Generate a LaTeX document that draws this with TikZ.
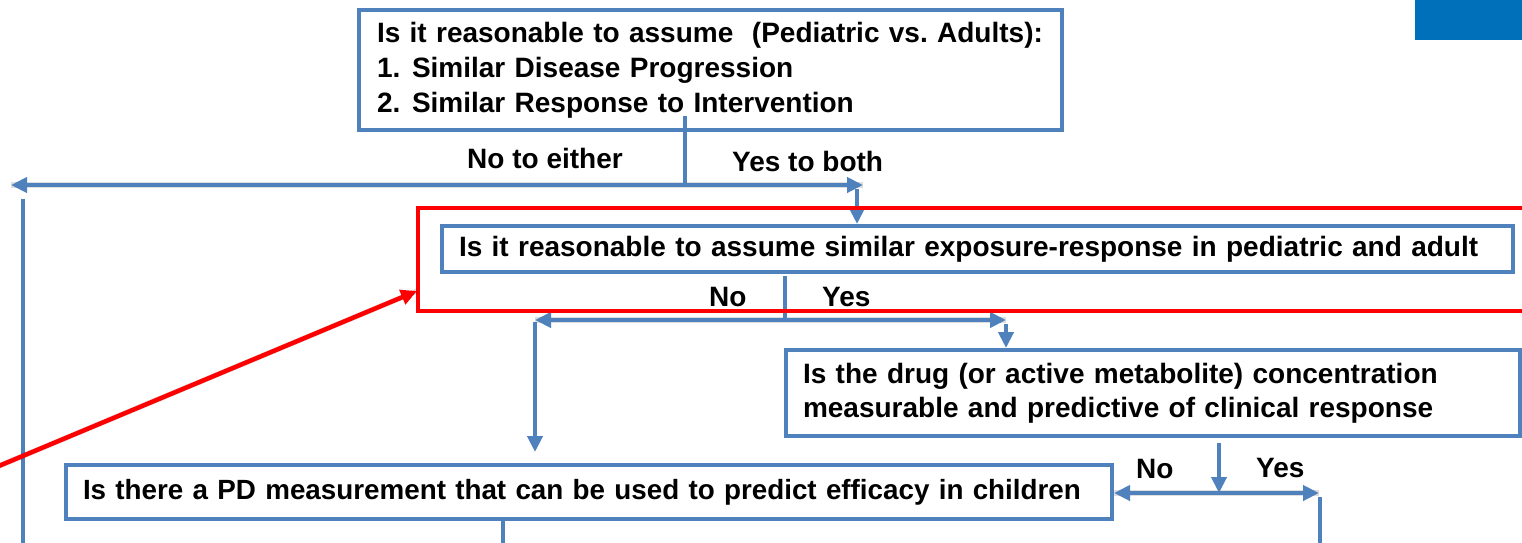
\documentclass[tikz,border=0pt]{standalone}
\usepackage{fontspec}
\setmainfont{Liberation Sans}
\usetikzlibrary{arrows.meta}
\definecolor{flowblue}{RGB}{79,129,189}
\definecolor{tabblue}{RGB}{0,112,186}
\definecolor{markred}{RGB}{255,0,0}
\tikzset{
  qbox/.style={draw=flowblue, line width=4pt, rectangle, anchor=north west,
    align=left, inner ysep=0pt, inner xsep=17pt,
    font=\fontsize{28}{35}\selectfont\bfseries},
  lbl/.style={anchor=base west, inner sep=0pt, font=\fontsize{28}{34}\selectfont\bfseries},
  flow/.style={draw=flowblue, line width=4pt},
  softshadow/.style={draw=black, opacity=0.13, line width=5.5pt, shift={(1.5,3)}},
  flowtip/.style={-{Triangle[length=16pt,width=15pt]}},
  flowboth/.style={{Triangle[length=16pt,width=15pt]}-{Triangle[length=16pt,width=15pt]}},
}
\begin{document}
\begin{tikzpicture}[x=1pt,y=-1pt]
\useasboundingbox (0,0) rectangle (1522,542);

% corner tab
\fill[tabblue] (1415,-2) rectangle (1524,40);

% question boxes
\node[qbox, inner xsep=18pt, text width=667pt, minimum width=703pt, minimum height=120pt] (q1) at (357,8)
  {\mbox{Is it reasonable to assume\ \ (Pediatric vs.\ Adults):}\\
   \mbox{\makebox[35pt][l]{1.}Similar Disease Progression}\\
   \mbox{\makebox[35pt][l]{2.}Similar Response to Intervention}};
\node[qbox, text width=1037pt, minimum width=1071pt, minimum height=46pt] (q2) at (440,224)
  {\mbox{Is it reasonable to assume similar exposure-response in pediatric and adult}};
\node[qbox, text width=700pt, minimum width=734pt, minimum height=86pt,
      font=\fontsize{28}{34}\selectfont\bfseries] (q3) at (784,348)
  {\mbox{Is the drug (or active metabolite) concentration}\\
   \mbox{measurable and predictive of clinical response}};
\node[qbox, text width=1012pt, minimum width=1046pt, minimum height=54pt,
      font=\fontsize{27.8}{34}\selectfont\bfseries] (q4) at (64,463)
  {\mbox{Is there a PD measurement that can be used to predict efficacy in children}};

% branch labels
\node[lbl] (l1n) at (467,168) {No to either};
\node[lbl] (l1y) at (732,171) {Yes to both};
\node[lbl] (l2n) at (709,306) {No};
\node[lbl] (l2y) at (822,306) {Yes};
\node[lbl] (l3n) at (1136,478) {No};
\node[lbl] (l3y) at (1256,477) {Yes};

% junction points
\coordinate (s1) at (685,116);
\coordinate (j1) at (685,185);
\coordinate (a1l) at (11,185);
\coordinate (a1r) at (863,185);
\coordinate (v1t) at (23,199);
\coordinate (v1b) at (23,545);
\coordinate (d1) at (857,189);
\coordinate (s2) at (785,276);
\coordinate (j2) at (785,320);
\coordinate (a2l) at (535,320);
\coordinate (a2r) at (1006,320);
\coordinate (d2l) at (535,322);
\coordinate (d2lb) at (535,452);
\coordinate (d2r) at (1006,324);
\coordinate (s3) at (1219,443);
\coordinate (j3) at (1219,493);
\coordinate (a3r) at (1319,493);
\coordinate (v3t) at (1320,497);
\coordinate (v3b) at (1320,545);
\coordinate (v4b) at (503,545);

% soft shadows under the horizontal branches
\draw[softshadow] (a1l) -- (a1r);
\draw[softshadow] (a2l) -- (a2r);
\draw[softshadow] (q4.east |- j3) -- (a3r);

% connectors
\draw[flow] (s1) -- (j1);
\draw[flow, flowboth] (a1l) -- (a1r);
\draw[flow] (v1t) -- (v1b);
\draw[flow, flowtip] (d1) -- (d1 |- q2.north);
\draw[flow] (s2) -- (j2);
\draw[flow, flowboth] (a2l) -- (a2r);
\draw[flow, flowtip] (d2l) -- (d2lb);
\draw[flow, flowtip] (d2r) -- (d2r |- q3.north);
\draw[flow, flowtip] (s3) -- (j3);
\draw[flow, flowboth] (q4.east |- j3) -- (a3r);
\draw[flow] (v3t) -- (v3b);
\draw[flow] (q4.south -| v4b) -- (v4b);

% highlight frame and pointer
\coordinate (hl) at (418,208);
\coordinate (hr) at (1530,311);
\draw[markred, line width=4.5pt] (hl) rectangle (hr);
\coordinate (pt) at (-6,468);
\coordinate (ph) at (417,291);
\draw[softshadow] (pt) -- (ph);
\draw[markred, line width=4.5pt, -{Triangle[length=16pt,width=15pt]}] (pt) -- (ph);
\end{tikzpicture}
\end{document}
